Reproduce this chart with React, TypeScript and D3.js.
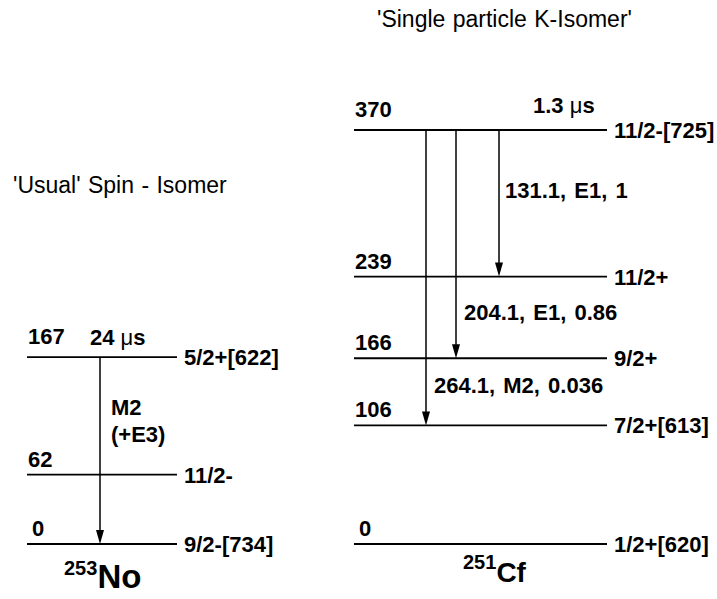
import React, { useEffect, useRef } from 'react';
import * as d3 from 'd3';

// level energies (keV) and spin labels
const noEnergies = [167, 62, 0];
const noSpins = ['5/2+[622]', '11/2-', '9/2-[734]'];
const cfEnergies = [370, 239, 166, 106, 0];
const cfSpins = ['11/2-[725]', '11/2+', '9/2+', '7/2+[613]', '1/2+[620]'];

// transitions: from -> to
const noFrom = [167];
const noTo = [0];
const cfFrom = [370, 370, 370];
const cfTo = [106, 166, 239];
const cfLabels = ['264.1, M2, 0.036', '204.1, E1, 0.86', '131.1, E1, 1'];

const titles = ["'Usual' Spin - Isomer", "'Single particle K-Isomer'"];

const W = 717;
const H = 599;
const FONT = '"Liberation Sans", Arial, Helvetica, sans-serif';

const App = () => {
    const svgRef = useRef(null);

    useEffect(() => {
        const svg = d3.select(svgRef.current);
        svg.selectAll('*').remove();

        // energy scale shared by both schemes
        const y = d3.scaleLinear().domain([0, 370]).range([544, 130]);

        const text = (x, yy, s, size = 21, weight = 'bold', ws = 2) =>
            svg.append('text')
                .attr('x', x)
                .attr('y', yy)
                .attr('font-family', FONT)
                .attr('font-size', size)
                .attr('font-weight', weight)
                .attr('word-spacing', ws)
                .attr('fill', '#000')
                .text(s);

        // titles
        text(13, 193, titles[0], 23, 'normal', 1);
        text(377, 27, titles[1], 23, 'normal', 1);

        const drawScheme = (energies, spins, x0, x1, spinX) => {
            svg.append('g')
                .selectAll('line')
                .data(energies)
                .enter()
                .append('line')
                .attr('x1', x0)
                .attr('x2', x1)
                .attr('y1', d => y(d))
                .attr('y2', d => y(d))
                .attr('stroke', '#000')
                .attr('stroke-width', 1.8);

            svg.append('g')
                .selectAll('text')
                .data(energies)
                .enter()
                .append('text')
                .attr('x', d => (d === 0 ? x0 + 5 : x0 + 1))
                .attr('y', (d, i) => y(d) - (i === 0 ? 13 : 8))
                .attr('font-family', FONT)
                .attr('font-size', 22)
                .attr('font-weight', 'bold')
                .text(d => d);

            svg.append('g')
                .selectAll('text')
                .data(spins)
                .enter()
                .append('text')
                .attr('x', spinX)
                .attr('y', (d, i) => y(energies[i]) + 8)
                .attr('font-family', FONT)
                .attr('font-size', 22)
                .attr('font-weight', 'bold')
                .text(d => d);
        };

        drawScheme(noEnergies, noSpins, 27, 177, 184);
        drawScheme(cfEnergies, cfSpins, 354, 607, 614);

        const drawArrows = (from, to, xs) => {
            const g = svg.append('g');
            g.selectAll('line')
                .data(from)
                .enter()
                .append('line')
                .attr('x1', (d, i) => xs[i])
                .attr('x2', (d, i) => xs[i])
                .attr('y1', d => y(d))
                .attr('y2', (d, i) => y(to[i]) - 10)
                .attr('stroke', '#000')
                .attr('stroke-width', 1.5);
            g.selectAll('path')
                .data(to)
                .enter()
                .append('path')
                .attr('d', (d, i) => {
                    const tip = y(d);
                    const x = xs[i];
                    return `M${x},${tip} L${x - 4},${tip - 14} L${x + 4},${tip - 14} Z`;
                })
                .attr('fill', '#000');
        };

        drawArrows(noFrom, noTo, [100]);
        drawArrows(cfFrom, cfTo, [426, 456, 499]);

        // transition labels
        text(505, 198, cfLabels[2], 22);
        text(464, 320, cfLabels[1], 22);
        text(434, 393, cfLabels[0], 22);
        text(111, 415, 'M2', 22);
        text(111, 442, '(+E3)', 22);

        // half-lives
        const halfLife = (x, yy, v) => {
            const t = svg.append('text')
                .attr('x', x)
                .attr('y', yy)
                .attr('font-family', FONT)
                .attr('font-size', 22)
                .attr('font-weight', 'bold');
            t.append('tspan').text(v + ' ');
            t.append('tspan').attr('font-weight', 'normal').text('\u03bc');
            t.append('tspan').text('s');
        };
        halfLife(90, 345, '24');
        halfLife(533, 113, '1.3');

        // nucleus names
        const nucleus = (x, yy, mass, sym, size) => {
            const t = svg.append('text')
                .attr('x', x)
                .attr('y', yy)
                .attr('font-family', FONT)
                .attr('font-weight', 'bold');
            t.append('tspan').attr('font-size', 20).attr('dy', -13).text(mass);
            t.append('tspan').attr('font-size', size).attr('dy', 13).text(sym);
        };
        nucleus(64, 588, '253', 'No', 33);
        nucleus(463, 582, '251', 'Cf', 28);
    }, []);

    return (
        <svg
            ref={svgRef}
            width={W}
            height={H}
            style={{ position: 'absolute', left: 0, top: 0, background: '#fff' }}
        />
    );
};

export default App;
